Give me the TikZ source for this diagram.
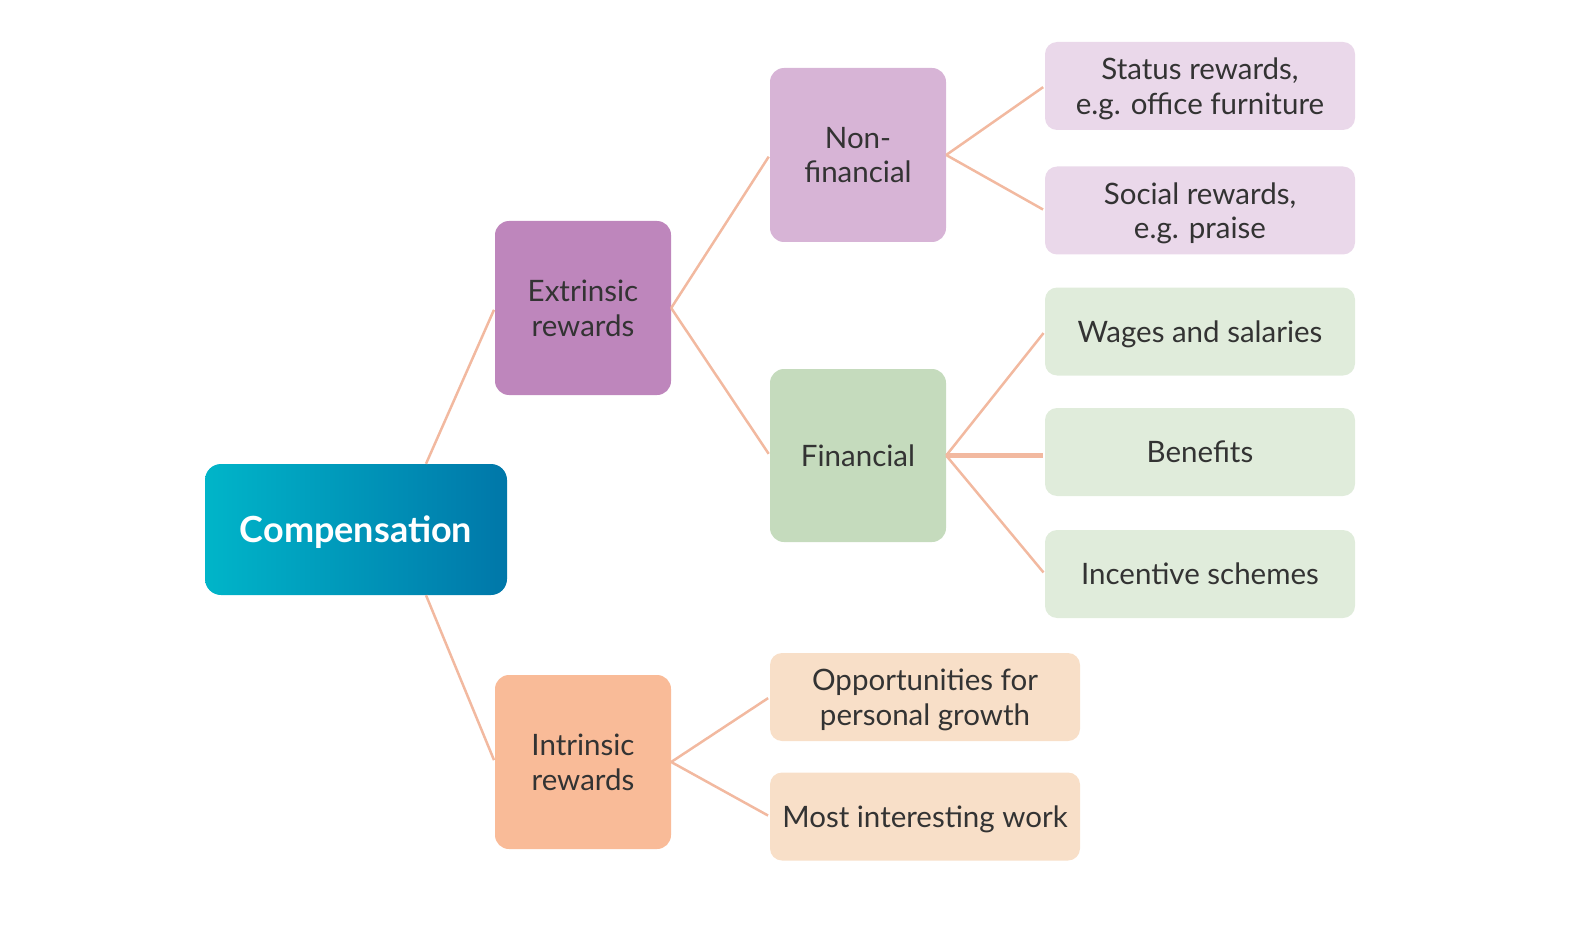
\documentclass[tikz,border=0pt]{standalone}
\usepackage{fontspec}
\setmainfont{Lato}
\definecolor{txt}{HTML}{333333}
\definecolor{lnk}{HTML}{F2B9A0}
\definecolor{compA}{HTML}{00B5C9}
\definecolor{compB}{HTML}{0077A9}
\definecolor{extc}{HTML}{BE86BC}
\definecolor{nonc}{HTML}{D7B4D6}
\definecolor{nonl}{HTML}{EAD8EA}
\definecolor{finc}{HTML}{C5DBBD}
\definecolor{finl}{HTML}{E0ECDB}
\definecolor{intc}{HTML}{F9BB98}
\definecolor{intl}{HTML}{F8DFC8}
\begin{document}
\begin{tikzpicture}[x=1pt,y=-1pt,
  box/.style={rounded corners=14pt, text=txt, font=\fontsize{29.5}{34.5}\selectfont, align=center, inner sep=0pt, text depth=0pt},
  bigbox/.style={box, minimum width=176pt, minimum height=174pt},
  leaf/.style={box, rounded corners=12pt, minimum width=310pt, minimum height=88pt},
  link/.style={draw=lnk, line width=2.5pt, shorten >=2pt},
  thick link/.style={link, line width=5pt}]
\useasboundingbox (0,0) rectangle (1592,933);
\node[box, rounded corners=16pt, minimum width=302pt, minimum height=131pt,
      left color=compA, middle color=compA!92!compB, right color=compB,
      text=white, font=\fontsize{36}{40}\selectfont\bfseries] (comp) at (356,529.5) {Compensation};
\node[bigbox, fill=extc] (ext) at (583,308) {Extrinsic\\rewards};
\node[bigbox, fill=intc] (int) at (583,762) {Intrinsic\\rewards};
\node[bigbox, fill=nonc] (non) at (858,155) {Non-\\financial};
\node[bigbox, fill=finc, minimum height=173pt] (fin) at (858,455.5) {Financial};
\node[leaf, fill=nonl] (status) at (1200,86) {Status rewards,\\e.g. office furniture};
\node[leaf, fill=nonl] (social) at (1200,210.5) {Social rewards,\\e.g. praise};
\node[leaf, fill=finl] (wages) at (1200,331.5) {Wages and salaries};
\node[leaf, fill=finl] (benef) at (1200,452) {Benefits};
\node[leaf, fill=finl] (incent) at (1200,574) {Incentive schemes};
\node[leaf, fill=intl] (opp) at (925,697) {Opportunities for\\personal growth};
\node[leaf, fill=intl] (most) at (925,816.5) {Most interesting work};
\draw[link] ([xshift=70pt]comp.north) -- (ext.west);
\draw[link] ([xshift=70pt]comp.south) -- (int.west);
\draw[link] (ext.east) -- (non.west);
\draw[link] (ext.east) -- (fin.west);
\draw[link] (non.east) -- (status.west);
\draw[link] (non.east) -- (social.west);
\draw[link] (fin.east) -- (wages.west);
\draw[thick link] (fin.east) -- (fin.east -| benef.west);
\draw[link] (fin.east) -- (incent.west);
\draw[link] (int.east) -- (opp.west);
\draw[link] (int.east) -- (most.west);
\end{tikzpicture}
\end{document}
